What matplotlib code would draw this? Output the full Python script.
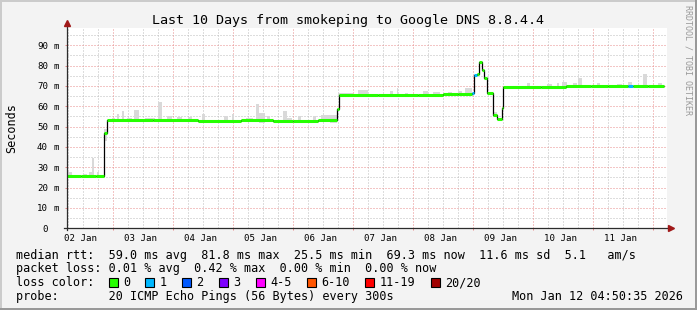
import matplotlib
matplotlib.use('Agg')
import matplotlib.pyplot as plt
import matplotlib.transforms as mtransforms
from matplotlib.patches import Rectangle

# hours since 02 Jan 00:00 / rtt in ms
med_t = [5.5, 11.0, 17.0, 20.2, 21.4, 40.0, 58.0, 75.0, 88.0, 96.0, 106.0,
         113.4, 114.2, 130.0, 146.0, 156.0, 162.0, 167.5, 168.3, 169.5, 170.2,
         171.4, 172.3, 173.4, 176.0, 177.6, 179.4, 180.0, 195.0, 205.0, 215.0,
         222.0, 229.9, 231.9, 238.0]
med_v = [25.6, 25.5, 25.6, 46.7, 53.1, 53.2, 53.0, 53.1, 52.9, 53.0, 53.1,
         58.7, 65.6, 65.7, 65.7, 65.9, 66.0, 66.4, 75.6, 76.0, 82.0,
         77.9, 74.1, 66.4, 55.7, 53.6, 59.0, 69.4, 69.7, 69.8, 69.9,
         69.8, 70.0, 69.9, 69.8]
med_loss = [0, 0, 0, 0, 0, 0, 0, 0, 0, 0, 0,
            0, 0, 0, 0, 0, 0, 1, 1, 0, 0,
            0, 0, 0, 0, 0, 0, 0, 0, 0, 0,
            0, 1, 0, 0]
med_end = 244.3

# smoke (ping spread) spikes
smoke_t0 = [6.0, 12.0, 14.3, 15.4, 17.6, 20.2, 23.4, 25.4, 27.4, 29.4, 32.3, 36.7,
            42.0, 45.4, 49.4, 54.0, 59.4, 68.1, 71.4, 77.2, 81.2, 82.2, 85.4, 92.0,
            93.6, 97.7, 103.8, 107.2, 110.7, 113.9, 121.9, 134.7, 137.4, 140.7, 147.9,
            152.0, 158.0, 162.0, 164.7, 176.0, 189.4, 197.4, 201.4, 203.4, 207.9,
            210.0, 217.4, 225.4, 229.9, 236.0, 241.9]
smoke_t1 = [7.4, 13.4, 15.4, 16.3, 18.4, 21.4, 24.7, 26.4, 28.3, 31.4, 34.3, 40.7,
            43.4, 47.4, 51.4, 55.4, 60.7, 69.7, 72.3, 79.8, 82.2, 84.5, 86.7, 93.6,
            95.4, 99.2, 105.2, 110.5, 113.4, 119.9, 125.9, 135.9, 138.0, 142.0, 149.9,
            154.7, 159.4, 163.4, 167.5, 177.6, 190.7, 199.4, 202.4, 205.4, 209.4,
            211.4, 218.7, 227.4, 231.4, 237.4, 243.4]
smoke_lo = [25.0, 25.0, 25.0, 25.0, 25.1, 43.0, 52.5, 52.5, 52.5, 52.5, 52.5, 52.5,
            52.5, 52.5, 52.5, 52.5, 52.3, 52.5, 52.5, 52.2, 52.5, 52.0, 52.5, 51.8,
            52.0, 52.5, 52.5, 52.6, 52.0, 65.0, 65.2, 65.2, 65.2, 65.2, 65.2,
            65.3, 65.4, 65.6, 65.6, 54.5, 69.0, 69.2, 69.2, 69.2, 69.2,
            69.2, 69.2, 69.2, 69.2, 69.2, 69.2]
smoke_hi = [27.9, 26.9, 27.6, 34.4, 27.6, 49.0, 54.1, 56.4, 57.7, 54.4, 58.2, 54.2,
            62.0, 55.2, 54.6, 54.9, 56.0, 55.0, 56.0, 54.4, 61.1, 56.6, 55.0, 57.7,
            54.4, 55.0, 55.4, 55.8, 55.7, 66.4, 68.0, 67.4, 68.9, 66.7, 67.4,
            67.0, 67.0, 67.4, 68.9, 57.0, 71.6, 71.0, 71.6, 71.8, 71.3,
            73.8, 71.3, 71.0, 71.8, 75.9, 71.3]

day_labels = ['02 Jan', '03 Jan', '04 Jan', '05 Jan', '06 Jan',
              '07 Jan', '08 Jan', '09 Jan', '10 Jan', '11 Jan']
y_labels = [0, 10, 20, 30, 40, 50, 60, 70, 80, 90]

loss_labels = ['0', '1', '2', '3', '4-5', '6-10', '11-19', '20/20']
loss_colors = ['#26ff00', '#00b8ff', '#0059ff', '#7e00ff', '#ff00ff',
               '#ff5500', '#ff0000', '#a10000']

title = 'Last 10 Days from smokeping to Google DNS 8.8.4.4'
row_rtt = 'median rtt:  59.0 ms avg  81.8 ms max  25.5 ms min  69.3 ms now  11.6 ms sd  5.1   am/s'
row_loss = 'packet loss: 0.01 % avg  0.42 % max  0.00 % min  0.00 % now'
row_color = 'loss color:'
row_probe = 'probe:       20 ICMP Echo Pings (56 Bytes) every 300s'
stamp = 'Mon Jan 12 04:50:35 2026'

MONO = 'DejaVu Sans Mono'
GRID = '#bdbdbd'
MGRID = '#e88c8c'
AXIS = '#2c2c2c'
ARROW = '#a01818'

W, H = 697, 310
fig = plt.figure(figsize=(W / 100, H / 100), dpi=100, facecolor='#f3f3f3')
ax = fig.add_axes([67 / W, (H - 228.3) / H, 600 / W, 200.3 / H])
ax.set_facecolor('white')
ax.set_xlim(5.5, 245.5)
ax.set_ylim(0, 98.5)
for s in ax.spines.values():
    s.set_visible(False)


def px(x, y):
    return x / W, 1 - y / H


# grid (rrdtool style dotted)
dots = (0, (1, 2))
for h in range(6, 246, 6):
    if h % 24:
        ax.axvline(h, color=GRID, lw=0.72, ls=dots, zorder=0)
for v in range(5, 100, 10):
    ax.axhline(v, color=GRID, lw=0.72, ls=dots, zorder=0)
for h in range(24, 241, 24):
    ax.axvline(h, color=MGRID, lw=0.72, ls=dots, zorder=0.5)
for v in range(10, 100, 10):
    ax.axhline(v, color=MGRID, lw=0.72, ls=dots, zorder=0.5)

ax.set_xticks(range(24, 241, 24))
ax.set_yticks(range(10, 91, 10))
ax.tick_params(labelbottom=False, labelleft=False, length=1.5, width=0.72,
               color=MGRID, direction='out')

# smoke
ax.bar(smoke_t0, [hi - lo for hi, lo in zip(smoke_hi, smoke_lo)], bottom=smoke_lo,
       width=[b - a for a, b in zip(smoke_t0, smoke_t1)], align='edge',
       color='#d9d9d9', lw=0, zorder=1)

# median line
edges = med_t + [med_end]
ax.stairs(med_v, edges, baseline=None, color='black', lw=0.9, zorder=2)
ax.hlines(med_v, med_t, edges[1:], colors=[loss_colors[l] for l in med_loss],
          lw=2.2, zorder=3, capstyle='butt')

# axes + arrows
ax.plot([-3 / 600, 1 + 1 / 600], [0, 0], transform=ax.transAxes, color=AXIS,
        lw=0.9, clip_on=False, zorder=4)
ax.plot([0, 0], [-2 / 200, 1 + 3 / 200], transform=ax.transAxes, color=AXIS,
        lw=0.9, clip_on=False, zorder=4)
ax.plot([1 + 4 / 600], [0], marker='>', ms=4.5, color=ARROW, transform=ax.transAxes,
        clip_on=False, zorder=5)
ax.plot([0], [1 + 5 / 200], marker='^', ms=4.5, color=ARROW, transform=ax.transAxes,
        clip_on=False, zorder=5)

# tick labels
xt = mtransforms.offset_copy(ax.get_xaxis_transform(), fig=fig, y=-12.4, units='dots')
for i, lab in enumerate(day_labels):
    ax.text(i * 24 + 11.0, 0, lab, transform=xt, ha='center', va='baseline',
            family=MONO, fontsize=6.6)
yt_num = mtransforms.offset_copy(ax.get_yaxis_transform(), fig=fig, x=-19.0, y=-3.3,
                                 units='dots')
yt_unit = mtransforms.offset_copy(ax.get_yaxis_transform(), fig=fig, x=-13.3, y=-3.3,
                                  units='dots')
for v in y_labels:
    ax.text(0, v, str(v), transform=yt_num, ha='right', va='baseline',
            family=MONO, fontsize=6.6)
    if v:
        ax.text(0, v, 'm', transform=yt_unit, ha='left', va='baseline',
                family=MONO, fontsize=6.6)

# texts
fig.text(*px(152.3, 24), title, family=MONO, fontsize=9.6, ha='left', va='baseline')
fig.text(*px(11.5, 128), 'Seconds', family=MONO, fontsize=8.5, rotation=90,
         ha='center', va='center')
fig.text(*px(688, 5), 'RRDTOOL / TOBI OETIKER', family=MONO, fontsize=6.0,
         rotation=270, ha='center', va='top', color='#999999')

fs = 8.5
cw = 7.13
fig.text(*px(15.5, 258.5), row_rtt, family=MONO, fontsize=fs, va='baseline')
fig.text(*px(15.5, 272.3), row_loss, family=MONO, fontsize=fs, va='baseline')
fig.text(*px(15.5, 286.0), row_color, family=MONO, fontsize=fs, va='baseline')
fig.text(*px(15.5, 299.8), row_probe, family=MONO, fontsize=fs, va='baseline')
fig.text(*px(512.5, 299.8), stamp, family=MONO, fontsize=fs, va='baseline')

bx = 108.5
for lab, col in zip(loss_labels, loss_colors):
    fig.add_artist(Rectangle((bx / W, 1 - 286.5 / H), 9 / W, 9 / H,
                             transform=fig.transFigure, facecolor=col,
                             edgecolor='black', lw=0.8))
    fig.text(*px(bx + 14.3, 286.0), lab, family=MONO, fontsize=fs, va='baseline')
    bx += 14.3 + (len(lab) + 2) * cw + 1.2

# frame shading
fig.add_artist(Rectangle((0, 1 - 2 / H), 1, 2 / H, transform=fig.transFigure,
                         color='#cbcbcb', lw=0))
fig.add_artist(Rectangle((0, 0), 2 / W, 1, transform=fig.transFigure,
                         color='#cbcbcb', lw=0))
fig.add_artist(Rectangle((0, 0), 1, 2 / H, transform=fig.transFigure,
                         color='#999999', lw=0))
fig.add_artist(Rectangle((1 - 2 / W, 0), 2 / W, 1, transform=fig.transFigure,
                         color='#999999', lw=0))

fig.savefig('out.png', dpi=100, facecolor=fig.get_facecolor())
